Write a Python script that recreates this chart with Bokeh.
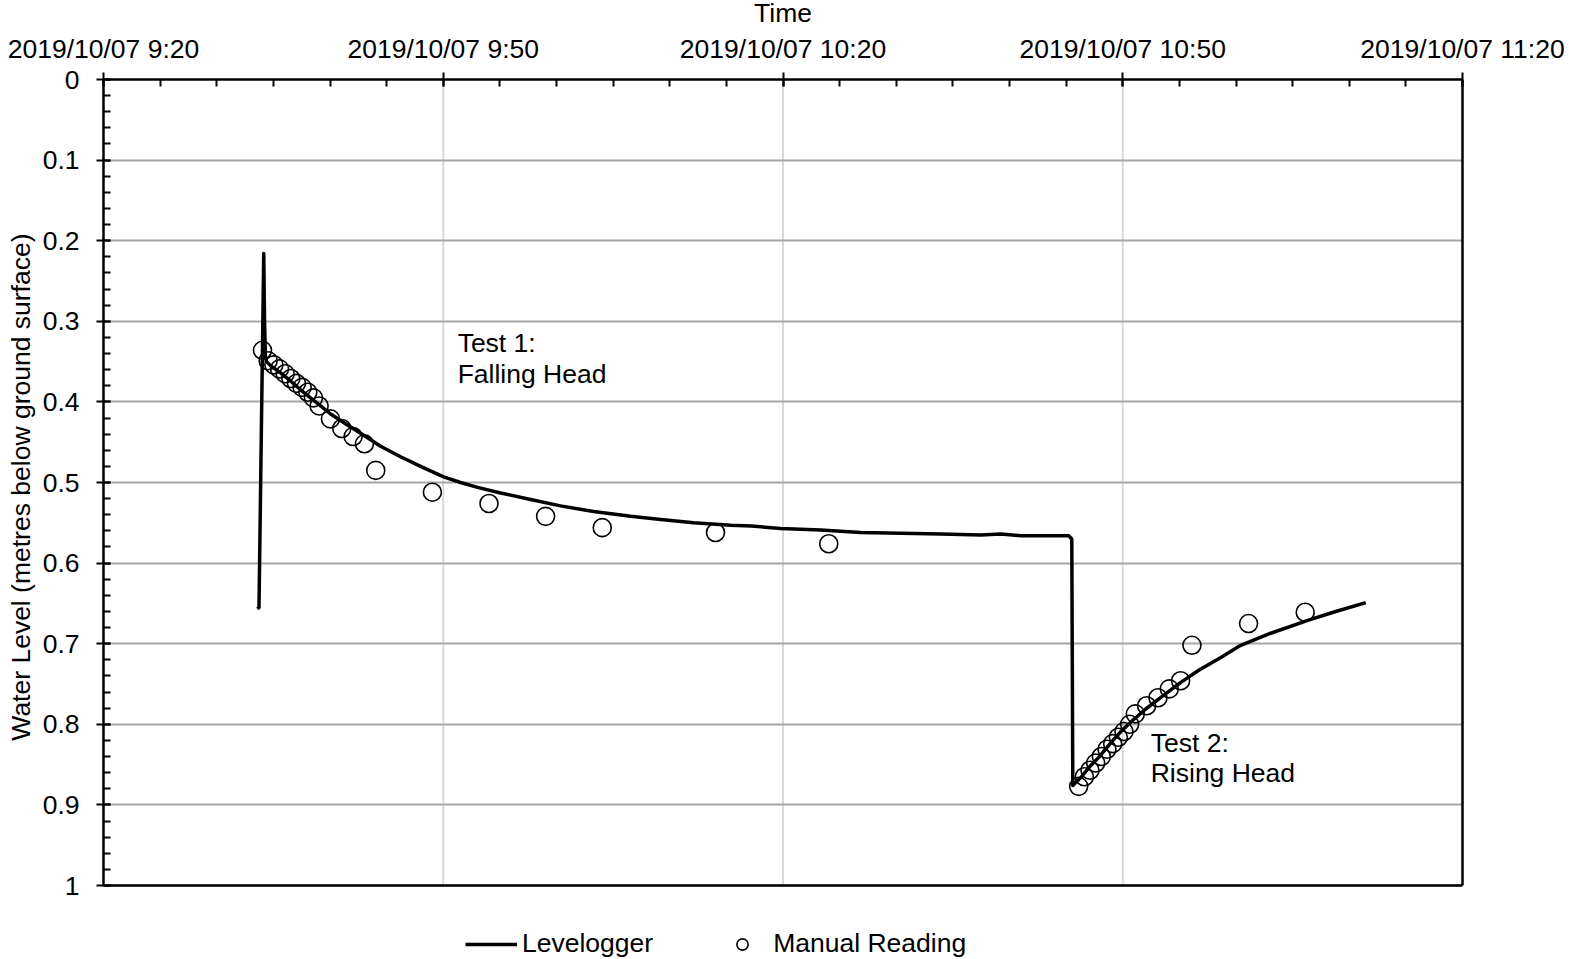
from bokeh.plotting import figure
from bokeh.models import Range1d, FixedTicker, Legend, LegendItem, LinearAxis, Span, Title
from bokeh.core.properties import value
from bokeh.embed import file_html
from bokeh.resources import INLINE

FONT = "Liberation Sans"
FS = "26.5px"

# ---- axes ----
# x: minutes after 2019/10/07 9:20
x_ticks = [0, 30, 60, 90, 120]
x_tick_labels = ["2019/10/07 9:20", "2019/10/07 9:50", "2019/10/07 10:20",
                 "2019/10/07 10:50", "2019/10/07 11:20"]
x_minor_ticks = list(range(0, 125, 5))
y_ticks = [0, 0.1, 0.2, 0.3, 0.4, 0.5, 0.6, 0.7, 0.8, 0.9, 1]
y_tick_labels = ["0", "0.1", "0.2", "0.3", "0.4", "0.5", "0.6", "0.7", "0.8", "0.9", "1"]
y_minor_ticks = [round(i * 0.02, 2) for i in range(51)]

# ---- Levelogger (minutes after 9:20, metres below ground surface) ----
lev_time = [13.60, 13.73, 14.15, 14.22, 14.30, 14.40, 14.75, 15.63, 16.52, 17.40,
            18.28, 19.17, 20.05, 21.37, 22.70, 24.47, 26.23, 28.00, 30.03, 31.53,
            33.03, 35.06, 37.71, 40.36, 43.28, 46.55, 49.20, 52.11, 55.38, 57.20,
            59.80, 63.33, 66.86, 70.39, 73.93, 77.46, 79.20, 81.00, 84.26, 85.23,
            85.50, 85.59, 85.72, 86.30, 87.18, 87.88, 88.94, 89.83, 90.89, 92.03,
            93.80, 95.13, 96.71, 98.66, 100.42, 103.07, 106.34, 108.81, 111.46]
lev_level = [0.657, 0.655, 0.216, 0.300, 0.345, 0.350, 0.355, 0.364, 0.374, 0.385,
             0.395, 0.405, 0.415, 0.427, 0.439, 0.455, 0.468, 0.480, 0.493, 0.500,
             0.506, 0.513, 0.521, 0.529, 0.536, 0.542, 0.546, 0.550, 0.553, 0.554,
             0.557, 0.559, 0.562, 0.563, 0.564, 0.565, 0.564, 0.566, 0.566, 0.566,
             0.570, 0.876, 0.874, 0.866, 0.851, 0.841, 0.823, 0.809, 0.795, 0.781,
             0.762, 0.748, 0.733, 0.717, 0.702, 0.687, 0.671, 0.660, 0.649]

# ---- Manual readings ----
falling_start = 14.04   # minutes after 9:20
falling_elapsed = [0, 0.5, 1, 1.5, 2, 2.5, 3, 3.5, 4, 4.5, 5, 6, 7, 8, 9, 10,
                   15, 20, 25, 30, 40, 50]
falling_level = [0.336, 0.349, 0.354, 0.359, 0.365, 0.371, 0.377, 0.382, 0.388,
                 0.395, 0.405, 0.421, 0.433, 0.443, 0.452, 0.485, 0.512, 0.526,
                 0.542, 0.556, 0.562, 0.576]
rising_start = 86.11
rising_elapsed = [0, 0.5, 1, 1.5, 2, 2.5, 3, 3.5, 4, 4.5, 5, 6, 7, 8, 9, 10, 15, 20]
rising_level = [0.877, 0.865, 0.857, 0.848, 0.840, 0.831, 0.824, 0.816, 0.809,
                0.800, 0.787, 0.777, 0.767, 0.756, 0.746, 0.702, 0.675, 0.661]

man_time = [falling_start + e for e in falling_elapsed] + [rising_start + e for e in rising_elapsed]
man_level = falling_level + rising_level

# ---- annotations ----
ann_text = ["Test 1:", "Falling Head", "Test 2:", "Rising Head"]
ann_x = [31.27, 31.27, 92.47, 92.47]
ann_y = [0.327, 0.366, 0.823, 0.860]

Y_MAX = 1.0918   # extra room below the chart area for the legend

p = figure(width=1573, height=967, x_range=Range1d(0, 120), y_range=Range1d(Y_MAX, 0),
           x_axis_location="above", output_backend="svg", toolbar_location=None,
           min_border_left=111, min_border_right=103, min_border_top=87,
           min_border_bottom=0)
p.margin = (-8, -12, -16, -8)
p.background_fill_color = "white"
p.border_fill_color = "white"
p.outline_line_color = None

xt = FixedTicker(ticks=x_ticks, minor_ticks=x_minor_ticks)
yt = FixedTicker(ticks=y_ticks, minor_ticks=y_minor_ticks)
xa = p.xaxis[0]
ya = p.yaxis[0]
xa.ticker = xt
ya.ticker = yt
ya.bounds = (0, 1)
xa.major_label_overrides = dict(zip(x_ticks, x_tick_labels))
ya.major_label_overrides = dict(zip(y_ticks, y_tick_labels))
xa.axis_label = "Time"
for ax in (xa, ya):
    ax.axis_line_color = "black"
    ax.axis_line_width = 2.5
    ax.major_tick_line_color = "black"
    ax.major_tick_line_width = 2
    ax.minor_tick_line_color = "black"
    ax.minor_tick_line_width = 2
    ax.major_tick_in = 7
    ax.major_tick_out = 7
    ax.minor_tick_in = 7
    ax.minor_tick_out = 0
    ax.major_label_text_font = FONT
    ax.major_label_text_font_size = FS
    ax.major_label_text_color = "black"
    ax.axis_label_text_font = FONT
    ax.axis_label_text_font_size = FS
    ax.axis_label_text_font_style = "normal"
    ax.axis_label_text_color = "black"
xa.major_label_standoff = 9
xa.axis_label_standoff = 3
ya.major_label_standoff = 17

# y-axis title, placed along the 0..1 chart area
ytitle = Title(text="Water Level (metres below ground surface)", align="right",
               offset=154, standoff=7, text_font=FONT, text_font_size=FS,
               text_font_style="normal", text_color="black")
p.add_layout(ytitle, "left")

# right border of the chart area
ra = LinearAxis(ticker=FixedTicker(ticks=[]), bounds=(0, 1), axis_line_color="black",
                axis_line_width=2.5, major_tick_in=0, major_tick_out=0,
                minor_tick_in=0, minor_tick_out=0, major_label_text_font_size="0px")
p.add_layout(ra, "right")

p.xgrid.visible = False
p.ygrid.ticker = yt
p.ygrid.grid_line_color = "#a6a6a6"
p.ygrid.grid_line_width = 2

# vertical grid lines at the inner major time ticks (chart area only)
gx = x_ticks[1:-1]
p.segment(x0=gx, y0=[0] * len(gx), x1=gx, y1=[1] * len(gx),
          line_color="#d9d9d9", line_width=2, level="underlay")

# bottom border of the chart area
p.add_layout(Span(location=1, dimension="width", line_color="black", line_width=2.5))

line = p.line(lev_time, lev_level, line_color="black", line_width=3.5, line_join="round")
sc = p.scatter(man_time, man_level, marker="circle", size=18, fill_color=None,
               line_color="black", line_width=1.6)

p.text(x=ann_x, y=ann_y, text=ann_text, text_font=value(FONT), text_font_size=FS,
       text_color="black", text_align="left", text_baseline="alphabetic")

legend = Legend(items=[LegendItem(label="Levelogger", renderers=[line]),
                       LegendItem(label="Manual Reading", renderers=[sc])],
                orientation="horizontal", location=(362, 0),
                glyph_width=52, glyph_height=28, label_standoff=5, spacing=63,
                padding=3, margin=0, border_line_color=None,
                background_fill_alpha=0, label_text_font=FONT,
                label_text_font_size=FS, label_text_color="black")
p.add_layout(legend)

open("out.html", "w").write(file_html(p, INLINE))
